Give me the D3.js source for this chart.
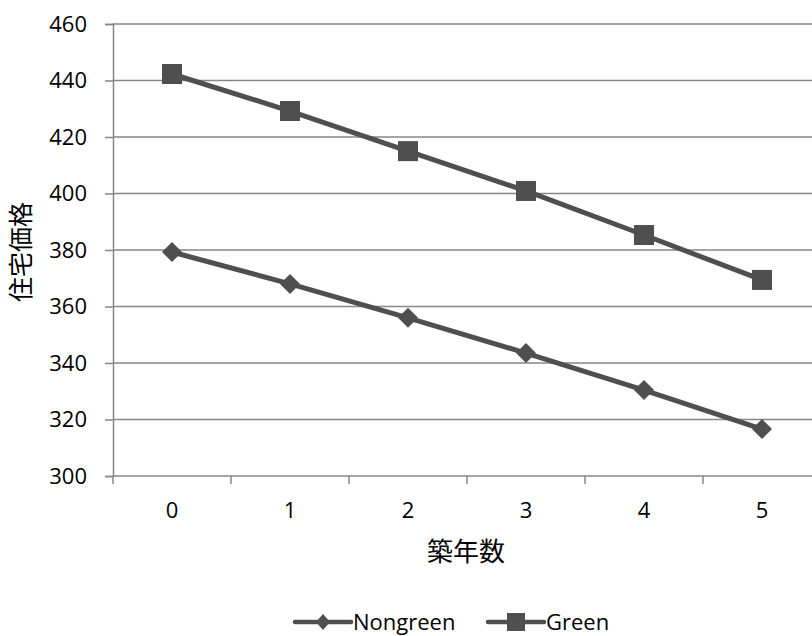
<!DOCTYPE html>
<html>
<head>
<meta charset="utf-8">
<script src="https://cdn.jsdelivr.net/npm/d3@7"></script>
<style>
  body { margin: 0; background: #fff; overflow: hidden; }
  svg { display: block; font-family: "Open Sans", "Noto Sans CJK JP", sans-serif; }
</style>
</head>
<body>
<svg id="chart"></svg>
<script>
const years = [0, 1, 2, 3, 4, 5];
const nongreen = [379.3, 368.0, 356.0, 343.5, 330.4, 316.6];
const green = [442.3, 429.2, 415.0, 400.9, 385.3, 369.4];
const yTicks = [300, 320, 340, 360, 380, 400, 420, 440, 460];

const width = 812, height = 636;
const plotLeft = 113, plotTop = 24, plotBottom = 476;
const catW = 118;
const plotRight = plotLeft + catW * years.length; // runs past the window edge like the original

const svg = d3.select("#chart").attr("width", width).attr("height", height);

const x = d3.scaleBand().domain(years).range([plotLeft, plotRight]);
const y = d3.scaleLinear().domain([300, 460]).range([plotBottom, plotTop]);

// gridlines
svg.append("g")
    .selectAll("line")
    .data(yTicks.slice(1))
    .enter()
    .append("line")
    .attr("x1", plotLeft).attr("x2", plotRight)
    .attr("y1", d => y(d)).attr("y2", d => y(d))
    .attr("stroke", "#868686")
    .attr("stroke-width", 1.5);

// y axis
const yAxis = svg.append("g")
    .attr("transform", `translate(${plotLeft},0)`)
    .call(d3.axisLeft(y).tickValues(yTicks).tickSize(8).tickPadding(18));
yAxis.select(".domain").attr("stroke", "#868686").attr("stroke-width", 1.5);
yAxis.selectAll(".tick line").attr("stroke", "#868686").attr("stroke-width", 1.5);
yAxis.selectAll("text").attr("font-size", 22).attr("fill", "#000").attr("font-family", "Open Sans");

// x axis, ticks between categories
const xAxis = svg.append("g")
    .attr("transform", `translate(0,${plotBottom})`);
xAxis.append("line")
    .attr("x1", plotLeft).attr("x2", plotRight)
    .attr("stroke", "#868686").attr("stroke-width", 1.5);
xAxis.selectAll(".tk")
    .data(d3.range(years.length + 1))
    .enter()
    .append("line")
    .attr("x1", i => plotLeft + i * x.step()).attr("x2", i => plotLeft + i * x.step())
    .attr("y1", 0).attr("y2", 8)
    .attr("stroke", "#868686").attr("stroke-width", 1.5);
xAxis.selectAll("text")
    .data(years)
    .enter()
    .append("text")
    .attr("x", d => x(d) + x.bandwidth() / 2)
    .attr("y", 42)
    .attr("text-anchor", "middle")
    .attr("font-size", 22)
    .text(d => d);

// axis titles
svg.append("text")
    .attr("x", 466).attr("y", 561)
    .attr("text-anchor", "middle")
    .attr("font-size", 26)
    .attr("font-family", "Noto Sans CJK JP")
    .text("築年数");
svg.append("text")
    .attr("transform", `translate(30,252) rotate(-90)`)
    .attr("text-anchor", "middle")
    .attr("font-size", 25)
    .attr("font-family", "Noto Sans CJK JP")
    .text("住宅価格");

const cx = d => x(d) + x.bandwidth() / 2;
const lineColor = "#4f4f4f";
const line = d3.line().x((d, i) => cx(years[i])).y(d => y(d));

function drawSeries(values, marker) {
    svg.append("path")
        .datum(values)
        .attr("d", line)
        .attr("fill", "none")
        .attr("stroke", lineColor)
        .attr("stroke-width", 5);
    svg.append("g")
        .selectAll("path")
        .data(values)
        .enter()
        .append("path")
        .attr("transform", (d, i) => `translate(${cx(years[i])},${y(d)})`)
        .attr("d", marker)
        .attr("fill", lineColor);
}

const diamond = "M0,-10L10,0L0,10L-10,0Z";
const square = "M-10,-10H10V10H-10Z";
drawSeries(nongreen, diamond);
drawSeries(green, square);

// legend
const legend = [
    { name: "Nongreen", marker: "M0,-8L7,0L0,8L-7,0Z", x: 295 },
    { name: "Green", marker: "M-9,-9H9V9H-9Z", x: 488 }
];
const lg = svg.append("g").attr("transform", "translate(0,622)");
legend.forEach(l => {
    lg.append("line")
        .attr("x1", l.x).attr("x2", l.x + 56)
        .attr("stroke", lineColor).attr("stroke-width", 4.5)
        .attr("stroke-linecap", "round");
    lg.append("path")
        .attr("transform", `translate(${l.x + 28},0)`)
        .attr("d", l.marker)
        .attr("fill", lineColor);
    lg.append("text")
        .attr("x", l.x + 58).attr("y", 8)
        .attr("font-size", 22)
        .text(l.name);
});
</script>
</body>
</html>
